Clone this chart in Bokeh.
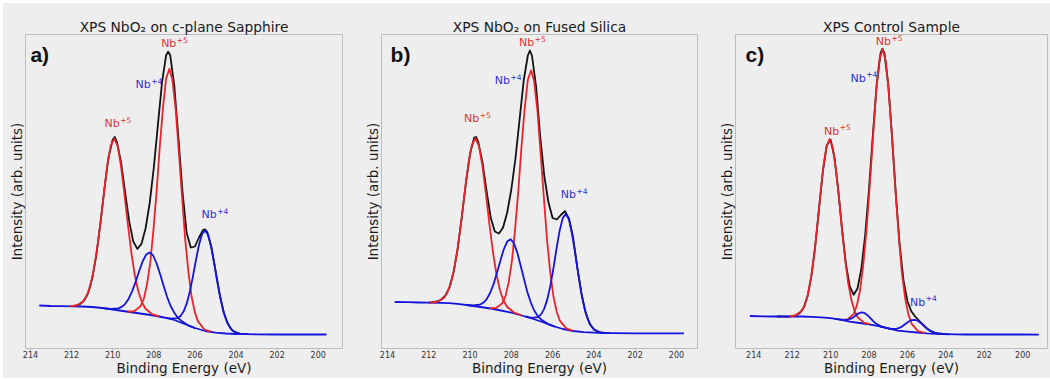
from bokeh.plotting import figure
from bokeh.layouts import row
from bokeh.models import Range1d, FixedTicker, Label
from bokeh.embed import file_html
from bokeh.resources import INLINE

# ---------------- shared ----------------
TICKS = [214, 212, 210, 208, 206, 204, 202, 200]
X_LABEL = "Binding Energy (eV)"
Y_LABEL = "Intensity (arb. units)"

# ---------------- panel a : NbO2 on c-plane sapphire ----------------
a_title = "XPS NbO\u2082 on c-plane Sapphire"
a_bg_x = [213.57, 213.0, 212.5, 212.0, 211.5, 211.0, 210.5, 210.0, 209.5, 209.0, 208.5, 208.0, 207.5,
          207.0, 206.5, 206.0, 205.5, 205.0, 204.5, 204.0, 203.5, 203.0, 202.0, 201.0, 200.0, 199.6]
a_bg_y = [43.0, 42.5, 42.3, 42.2, 42.0, 41.5, 40.5, 39.0, 37.5, 36.0, 34.5, 33.0, 31.0,
          28.5, 24.5, 20.5, 17.5, 15.8, 15.0, 14.5, 14.3, 14.2, 14.0, 14.0, 14.2, 14.0]
a_data_x = [212.0, 211.8, 211.6, 211.4, 211.2, 211.0, 210.8, 210.6, 210.4, 210.2, 210.0, 209.9, 209.8,
            209.6, 209.4, 209.2, 209.0, 208.8, 208.6, 208.4, 208.2, 208.0, 207.8, 207.6, 207.4, 207.3,
            207.2, 207.0, 206.8, 206.6, 206.4, 206.2, 206.0, 205.8, 205.6, 205.5, 205.4, 205.2, 205.0,
            204.8, 204.6, 204.4, 204.2, 204.0, 203.8, 203.6, 203.4]
a_data_y = [42.4, 42.8, 44.2, 47.7, 55.3, 69.7, 92.9, 124.5, 159.9, 191.4, 208.8, 211.5, 207.0,
            187.1, 157.2, 127.6, 107.1, 99.6, 104.5, 120.0, 145.2, 180.7, 223.4, 265.8, 293.2, 296.8,
            293.2, 262.3, 210.3, 156.0, 115.4, 101.0, 102.0, 111.0, 118.7, 119.0, 116.4, 101.5, 78.0,
            54.6, 36.3, 24.7, 18.6, 15.8, 14.8, 14.4, 14.3]
a_nb5a_x = [212.10, 211.76, 211.43, 211.26, 211.09, 210.93, 210.76, 210.59, 210.42, 210.26, 210.09, 209.92,
            209.75, 209.59, 209.42, 209.25, 209.08, 208.92, 208.75, 208.58, 208.41, 208.08, 207.74]
a_nb5a_y = [42.3, 43.0, 47.0, 52.5, 62.1, 77.3, 98.9, 126.2, 156.2, 183.6, 203.1, 209.8,
            202.1, 181.6, 153.2, 122.3, 94.1, 73.0, 57.0, 46.5, 40.0, 34.3, 32.1]
a_nb5b_x = [209.26, 208.95, 208.64, 208.48, 208.33, 208.17, 208.02, 207.86, 207.71, 207.55, 207.40, 207.24,
            207.09, 206.93, 206.78, 206.62, 206.47, 206.31, 206.16, 206.00, 205.85, 205.54, 205.23]
a_nb5b_y = [37.0, 37.2, 42.4, 50.0, 63.9, 86.1, 117.7, 157.6, 201.2, 241.4, 269.9, 279.7,
            268.4, 238.1, 196.1, 150.5, 108.9, 75.6, 51.7, 36.1, 27.1, 19.0, 16.8]
a_nb4a_x = [210.41, 210.07, 209.73, 209.56, 209.39, 209.22, 209.05, 208.88, 208.71, 208.54, 208.37, 208.20,
            208.03, 207.86, 207.69, 207.52, 207.35, 207.18, 207.01, 206.84, 206.67, 206.33, 205.99]
a_nb4a_y = [40.2, 39.5, 40.1, 41.6, 44.7, 49.8, 57.4, 66.9, 77.5, 87.2, 94.0, 96.1,
            93.0, 85.0, 74.2, 62.4, 51.4, 42.5, 36.1, 31.1, 27.8, 23.2, 20.4]
a_nb4b_x = [207.45, 207.15, 206.85, 206.70, 206.55, 206.40, 206.25, 206.10, 205.95, 205.80, 205.65, 205.50,
            205.35, 205.20, 205.05, 204.90, 204.75, 204.60, 204.45, 204.30, 204.15, 203.85, 203.55]
a_nb4b_y = [30.9, 29.8, 30.3, 32.4, 36.9, 44.8, 56.5, 71.6, 88.3, 103.8, 114.6, 118.0,
            113.2, 101.0, 84.1, 65.9, 49.4, 36.3, 27.0, 21.1, 17.6, 14.9, 14.4]
a_labels = [(209.75, 225, "+5", "red"), (207.0, 305, "+5", "red"),
            (208.25, 264, "+4", "blue"), (205.04, 134, "+4", "blue")]

# ---------------- panel b : NbO2 on fused silica ----------------
b_title = "XPS NbO\u2082 on Fused Silica"
b_bg_x = [213.65, 213.0, 212.5, 212.0, 211.5, 211.0, 210.5, 210.0, 209.5, 209.0, 208.5, 208.0, 207.5,
          207.0, 206.5, 206.0, 205.5, 205.0, 204.5, 204.0, 203.5, 203.0, 202.0, 201.0, 200.0, 199.64]
b_bg_y = [46.5, 46.3, 46.0, 45.8, 45.6, 45.3, 44.3, 43.0, 41.5, 40.0, 38.0, 35.8, 33.0,
          30.0, 26.5, 22.5, 19.5, 17.5, 16.3, 15.8, 15.4, 15.3, 15.2, 15.2, 15.2, 15.2]
b_data_x = [212.0, 211.8, 211.6, 211.4, 211.2, 211.0, 210.8, 210.6, 210.4, 210.2, 210.0, 209.8, 209.7,
            209.6, 209.4, 209.2, 209.0, 208.8, 208.6, 208.4, 208.2, 208.0, 207.8, 207.6, 207.4, 207.2,
            207.1, 207.0, 206.8, 206.6, 206.4, 206.2, 206.0, 205.8, 205.6, 205.4, 205.2, 205.0, 204.8,
            204.6, 204.4, 204.2, 204.0, 203.8, 203.6, 203.4, 203.2]
b_data_y = [45.9, 46.3, 47.0, 48.8, 52.8, 60.9, 76.1, 99.9, 131.5, 165.9, 195.1, 210.8, 211.5,
            206.4, 186.4, 157.6, 131.1, 117.0, 115.0, 121.0, 136.0, 159.0, 190.0, 229.0, 268.0, 293.0,
            298.0, 293.0, 262.0, 212.0, 172.0, 146.0, 130.5, 129.0, 133.5, 137.3, 129.5, 110.0, 80.3,
            54.6, 35.9, 24.7, 19.1, 16.7, 15.8, 15.4, 15.3]
b_nb5a_x = [211.95, 211.61, 211.27, 211.10, 210.93, 210.76, 210.59, 210.42, 210.25, 210.08, 209.91, 209.74,
            209.57, 209.40, 209.23, 209.06, 208.89, 208.72, 208.55, 208.38, 208.21, 207.87, 207.53]
b_nb5a_y = [45.9, 46.5, 50.5, 55.9, 65.3, 80.1, 101.4, 128.1, 157.5, 184.5, 203.6, 210.2,
            202.6, 182.5, 154.5, 124.2, 96.5, 74.2, 58.3, 48.0, 41.7, 36.0, 33.3]
b_nb5b_x = [209.06, 208.75, 208.44, 208.28, 208.13, 207.97, 207.82, 207.66, 207.51, 207.35, 207.20, 207.04,
            206.89, 206.73, 206.58, 206.42, 206.27, 206.11, 205.96, 205.80, 205.65, 205.34, 205.03]
b_nb5b_y = [40.4, 40.3, 45.1, 52.5, 66.1, 87.7, 118.7, 157.9, 201.1, 240.4, 268.7, 278.2,
            266.7, 236.6, 195.1, 149.9, 108.6, 75.5, 52.0, 36.8, 27.8, 20.2, 17.8]
b_nb4a_x = [210.19, 209.86, 209.53, 209.36, 209.19, 209.03, 208.86, 208.70, 208.53, 208.37, 208.20, 208.04,
            207.88, 207.71, 207.55, 207.38, 207.22, 207.05, 206.89, 206.72, 206.56, 206.23, 205.89]
b_nb4a_y = [43.5, 43.0, 43.8, 45.7, 49.4, 55.5, 64.3, 75.5, 87.8, 99.0, 106.9, 109.3,
            105.5, 95.9, 83.0, 69.0, 56.1, 45.7, 38.0, 32.6, 29.1, 24.7, 21.8]
b_nb4b_x = [207.31, 207.01, 206.71, 206.56, 206.41, 206.26, 206.11, 205.96, 205.81, 205.66, 205.51, 205.36,
            205.21, 205.06, 204.91, 204.76, 204.61, 204.46, 204.31, 204.16, 204.01, 203.71, 203.41]
b_nb4b_y = [32.0, 30.7, 31.4, 34.1, 39.6, 48.9, 62.6, 80.2, 99.8, 117.8, 130.4, 134.6,
            129.1, 115.0, 95.6, 74.8, 55.8, 40.6, 29.9, 23.2, 19.3, 16.2, 15.5]
b_labels = [(209.65, 229.7, "+5", "red"), (206.99, 305.7, "+5", "red"),
            (208.16, 268, "+4", "blue"), (204.96, 153.7, "+4", "blue")]

# ---------------- panel c : control sample ----------------
c_title = "XPS Control Sample"
c_bg_x = [214.2, 213.5, 213.0, 212.5, 212.0, 211.5, 211.0, 210.5, 210.0, 209.5, 209.0, 208.5, 208.0, 207.5,
          207.0, 206.5, 206.0, 205.5, 205.0, 204.5, 204.0, 203.5, 203.0, 202.0, 201.0, 200.0, 199.16]
c_bg_y = [32.5, 32.2, 32.0, 32.0, 32.0, 32.0, 31.7, 31.2, 30.4, 28.8, 26.9, 25.5, 24.2, 22.4,
          20.0, 17.8, 16.8, 16.0, 15.2, 14.7, 14.3, 14.1, 14.0, 14.0, 14.0, 14.0, 13.8]
c_data_x = [212.8, 212.6, 212.4, 212.2, 212.0, 211.8, 211.6, 211.4, 211.2, 211.0, 210.8, 210.6, 210.4,
            210.2, 210.0, 209.8, 209.6, 209.4, 209.2, 209.0, 208.8, 208.6, 208.4, 208.2, 208.0, 207.8,
            207.6, 207.4, 207.3, 207.2, 207.0, 206.8, 206.6, 206.4, 206.2, 206.0, 205.8, 205.6, 205.4,
            205.2, 205.0, 204.8, 204.6, 204.4, 204.2, 204.0]
c_data_y = [32.0, 32.0, 31.8, 32.0, 32.4, 33.2, 35.5, 40.9, 52.2, 72.5, 102.6, 140.3, 177.5,
            203.3, 208.7, 191.3, 157.8, 118.4, 84.1, 61.8, 53.8, 60.0, 79.7, 113.4, 159.6, 213.7,
            264.2, 295.3, 299.7, 295.6, 264.2, 211.4, 152.6, 102.6, 67.4, 47.3, 37.2, 32.0, 28.0,
            24.0, 20.2, 17.6, 15.9, 15.0, 14.6, 14.3]
c_nb5a_x = [212.16, 211.84, 211.51, 211.35, 211.19, 211.03, 210.86, 210.70, 210.54, 210.38, 210.21, 210.05,
            209.89, 209.73, 209.56, 209.40, 209.24, 209.08, 208.91, 208.75, 208.59, 208.26, 207.94]
c_nb5a_y = [32.1, 33.0, 37.4, 43.1, 53.2, 69.3, 92.2, 120.9, 152.5, 181.5, 202.1, 209.5,
            201.5, 180.2, 150.3, 117.9, 88.4, 64.8, 48.1, 37.4, 31.2, 25.9, 24.1]
c_nb5b_x = [209.47, 209.13, 208.80, 208.63, 208.46, 208.30, 208.13, 207.96, 207.79, 207.63, 207.46, 207.29,
            207.12, 206.96, 206.79, 206.62, 206.45, 206.29, 206.12, 205.95, 205.78, 205.45, 205.11]
c_nb5b_y = [28.9, 28.9, 34.6, 43.2, 58.7, 83.4, 118.6, 163.1, 211.8, 256.7, 288.4, 299.4,
            286.8, 253.6, 207.5, 157.3, 111.8, 75.8, 50.3, 34.1, 24.7, 17.4, 15.6]
c_nb4a_x = [209.79, 209.57, 209.34, 209.23, 209.12, 209.01, 208.89, 208.78, 208.67, 208.56, 208.44, 208.33,
            208.22, 208.11, 207.99, 207.88, 207.77, 207.66, 207.54, 207.43, 207.32, 207.09, 206.87]
c_nb4a_y = [29.7, 29.2, 28.5, 28.5, 28.7, 29.3, 30.3, 31.8, 33.5, 34.9, 35.8, 36.0,
            35.3, 33.8, 31.7, 29.3, 27.1, 25.3, 23.9, 22.8, 21.8, 20.5, 19.4]
c_nb4b_x = [207.42, 207.14, 206.87, 206.73, 206.59, 206.46, 206.32, 206.18, 206.04, 205.91, 205.77, 205.63,
            205.49, 205.36, 205.22, 205.08, 204.94, 204.81, 204.67, 204.53, 204.39, 204.12, 203.84]
c_nb4b_y = [22.0, 20.8, 19.8, 19.6, 19.7, 20.3, 21.6, 23.5, 25.4, 27.2, 28.4, 28.7,
            28.0, 26.3, 24.1, 21.6, 19.3, 17.6, 16.3, 15.5, 15.0, 14.5, 14.2]
c_labels = [(209.66, 217.3, "+5", "red"), (206.96, 307, "+5", "red"),
            (208.27, 270.3, "+4", "blue"), (205.18, 46.3, "+4", "blue")]

# ---------------- styling ----------------
BG = "#eeeeee"
FRAME = "#bcbcbc"
LINE_RED = "#e8242a"
LINE_BLUE = "#1414dc"
LINE_BLACK = "#111111"
TXT_RED = "#dc3434"
TXT_BLUE = "#3030d2"
LW = 1.8
FIG_H = 375


def nb_label(p, x, y, sup, color):
    p.add_layout(Label(x=x, y=y, text="Nb", text_align="right", text_baseline="middle",
                       x_offset=2, text_font="DejaVu Sans", text_font_size="11px", text_color=color))
    p.add_layout(Label(x=x, y=y, text=sup, text_align="left", text_baseline="middle",
                       x_offset=2.5, y_offset=4, text_font="DejaVu Sans", text_font_size="7.5px",
                       text_color=color))


def panel(title, letter, letter_x, x0, x1, width, left, right,
          bg, data, reds, blues, labels):
    p = figure(width=width, height=FIG_H, x_range=Range1d(x0, x1), y_range=Range1d(0, 314),
               output_backend="svg", toolbar_location=None,
               min_border_left=left, min_border_right=right,
               min_border_top=31, min_border_bottom=30,
               background_fill_color=BG, border_fill_color=BG,
               outline_line_color=FRAME, outline_line_width=1, title=title)
    p.title.align = "center"
    p.title.text_font = "DejaVu Sans"
    p.title.text_font_size = "13.8px"
    p.title.text_font_style = "normal"
    p.title.text_color = "#1a1a1a"
    p.title.standoff = 0
    p.xgrid.visible = False
    p.ygrid.visible = False

    xa = p.xaxis[0]
    xa.ticker = FixedTicker(ticks=TICKS)
    xa.axis_line_color = None
    xa.major_tick_line_color = FRAME
    xa.major_tick_out = 2
    xa.major_tick_in = 0
    xa.minor_tick_line_color = None
    xa.major_label_text_font = "DejaVu Sans"
    xa.major_label_text_font_size = "8px"
    xa.major_label_text_color = "#333333"
    xa.major_label_standoff = 0
    xa.axis_label = X_LABEL
    xa.axis_label_text_font = "DejaVu Sans"
    xa.axis_label_text_font_size = "13.5px"
    xa.axis_label_text_font_style = "normal"
    xa.axis_label_text_color = "#1a1a1a"
    xa.axis_label_standoff = -1

    ya = p.yaxis[0]
    ya.ticker = FixedTicker(ticks=[])
    ya.axis_line_color = None
    ya.major_tick_line_color = None
    ya.minor_tick_line_color = None
    ya.major_tick_out = 0
    ya.major_label_text_font_size = "0px"
    ya.major_label_standoff = 0
    ya.axis_label = Y_LABEL
    ya.axis_label_text_font = "DejaVu Sans"
    ya.axis_label_text_font_size = "13.5px"
    ya.axis_label_text_font_style = "normal"
    ya.axis_label_text_color = "#1a1a1a"
    ya.axis_label_standoff = 1

    p.line(data[0], data[1], line_color=LINE_BLACK, line_width=LW, line_join="round")
    p.line(bg[0], bg[1], line_color=LINE_BLUE, line_width=LW, line_join="round")
    for xs, ys in reds:
        p.line(xs, ys, line_color=LINE_RED, line_width=LW, line_join="round")
    for xs, ys in blues:
        p.line(xs, ys, line_color=LINE_BLUE, line_width=LW, line_join="round")

    for lx, ly, sup, col in labels:
        nb_label(p, lx, ly, sup, TXT_RED if col == "red" else TXT_BLUE)
    p.add_layout(Label(x=letter_x, y=306, text=letter, text_align="left", text_baseline="top",
                       text_font="Liberation Sans", text_font_style="bold",
                       text_font_size="21px", text_color="#111111"))
    return p


pa = panel(a_title, "a)", 214.0, 214.24, 198.82, 357, 22, 18,
           (a_bg_x, a_bg_y), (a_data_x, a_data_y),
           [(a_nb5a_x, a_nb5a_y), (a_nb5b_x, a_nb5b_y)],
           [(a_nb4a_x, a_nb4a_y), (a_nb4b_x, a_nb4b_y)], a_labels)
pb = panel(b_title, "b)", 213.85, 214.29, 198.98, 354, 21, 17,
           (b_bg_x, b_bg_y), (b_data_x, b_data_y),
           [(b_nb5a_x, b_nb5a_y), (b_nb5b_x, b_nb5b_y)],
           [(b_nb4a_x, b_nb4a_y), (b_nb4b_x, b_nb4b_y)], b_labels)
pc = panel(c_title, "c)", 214.43, 214.95, 198.71, 336, 21, 3,
           (c_bg_x, c_bg_y), (c_data_x, c_data_y),
           [(c_nb5a_x, c_nb5a_y), (c_nb5b_x, c_nb5b_y)],
           [(c_nb4a_x, c_nb4a_y), (c_nb4b_x, c_nb4b_y)], c_labels)

layout = row(pa, pb, pc, margin=(3, 0, 0, 3), styles={"background-color": BG})
open("out.html", "w", encoding="utf-8").write(file_html(layout, INLINE, title="XPS"))
